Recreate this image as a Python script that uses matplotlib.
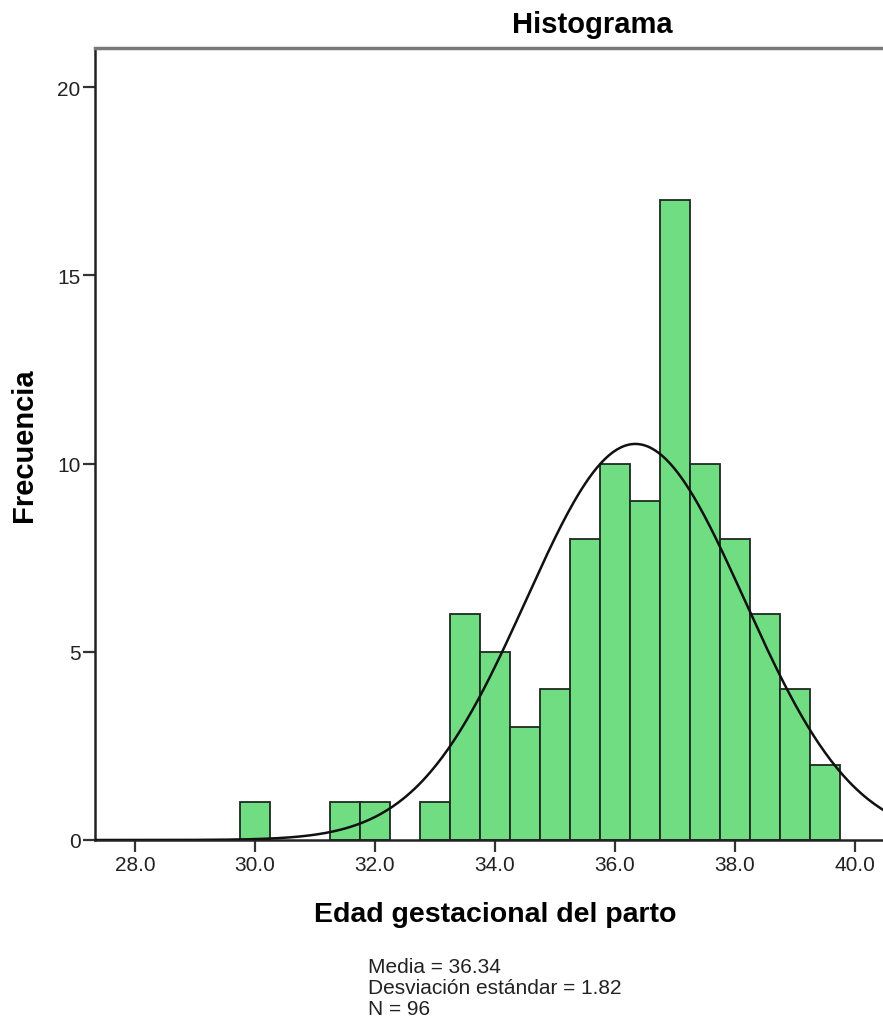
import numpy as np
import matplotlib
matplotlib.use("Agg")
import matplotlib.pyplot as plt

# Data
bin_centers = [30.0, 31.5, 32.0, 33.0, 33.5, 34.0, 34.5, 35.0, 35.5, 36.0,
               36.5, 37.0, 37.5, 38.0, 38.5, 39.0, 39.5]
counts = [1, 1, 1, 1, 6, 5, 3, 4, 8, 10, 9, 17, 10, 8, 6, 4, 2]
bin_width = 0.5
media = 36.34
desv = 1.82
n_total = 96
x_ticks = [28.0, 30.0, 32.0, 34.0, 36.0, 38.0, 40.0]
y_ticks = [0, 5, 10, 15, 20]

plt.rcParams['font.family'] = ['Liberation Sans', 'DejaVu Sans']

W, H = 883, 1020
fig = plt.figure(figsize=(W / 100, H / 100), dpi=100)
left_px, right_px, top_px, bot_px = 95, 883, 49, 841
ax = fig.add_axes([left_px / W, 1 - bot_px / H, (right_px - left_px) / W, (bot_px - top_px) / H])

ax.bar(bin_centers, counts, width=bin_width, color='#70dd82', edgecolor='#1e2a20',
       linewidth=1.3, zorder=2)

xs = np.linspace(27.3, 40.5, 400)
pdf = n_total * bin_width / (desv * np.sqrt(2 * np.pi)) * np.exp(-0.5 * ((xs - media) / desv) ** 2)
ax.plot(xs, pdf, color='#111111', linewidth=1.8, zorder=3)

ax.set_xlim(27.33, 40.47)
ax.set_ylim(0, 21.04)
ax.set_xticks(x_ticks)
ax.set_xticklabels([f"{v:.1f}" for v in x_ticks])
ax.set_yticks(y_ticks)
ax.tick_params(axis='both', direction='out', length=8.5, width=1.6, color='#333333',
               labelsize=15, labelcolor='#222222', pad=2)

for s in ['left', 'bottom']:
    ax.spines[s].set_color('#222222')
    ax.spines[s].set_linewidth(1.8)
ax.spines['top'].set_color('#7a7a7a')
ax.spines['top'].set_linewidth(2.5)
ax.spines['right'].set_visible(False)

fig.text(495.5 / W, 1 - 915 / H, 'Edad gestacional del parto', fontsize=20.5,
         fontweight='bold', ha='center', va='center')
fig.text(24 / W, 1 - 445 / H, 'Frecuencia', fontsize=21, fontweight='bold',
         ha='center', va='center', rotation=90)

fig.text(592 / W, 1 - 25 / H, 'Histograma', fontsize=21, fontweight='bold',
         ha='center', va='center')

fig.text(368 / W, 1 - 958 / H,
         f"Media = {media:.2f}\nDesviación estándar = {desv:.2f}\nN = {n_total}",
         fontsize=15, ha='left', va='top', linespacing=1.12, color='#222222')

fig.savefig('out.png', dpi=100)
